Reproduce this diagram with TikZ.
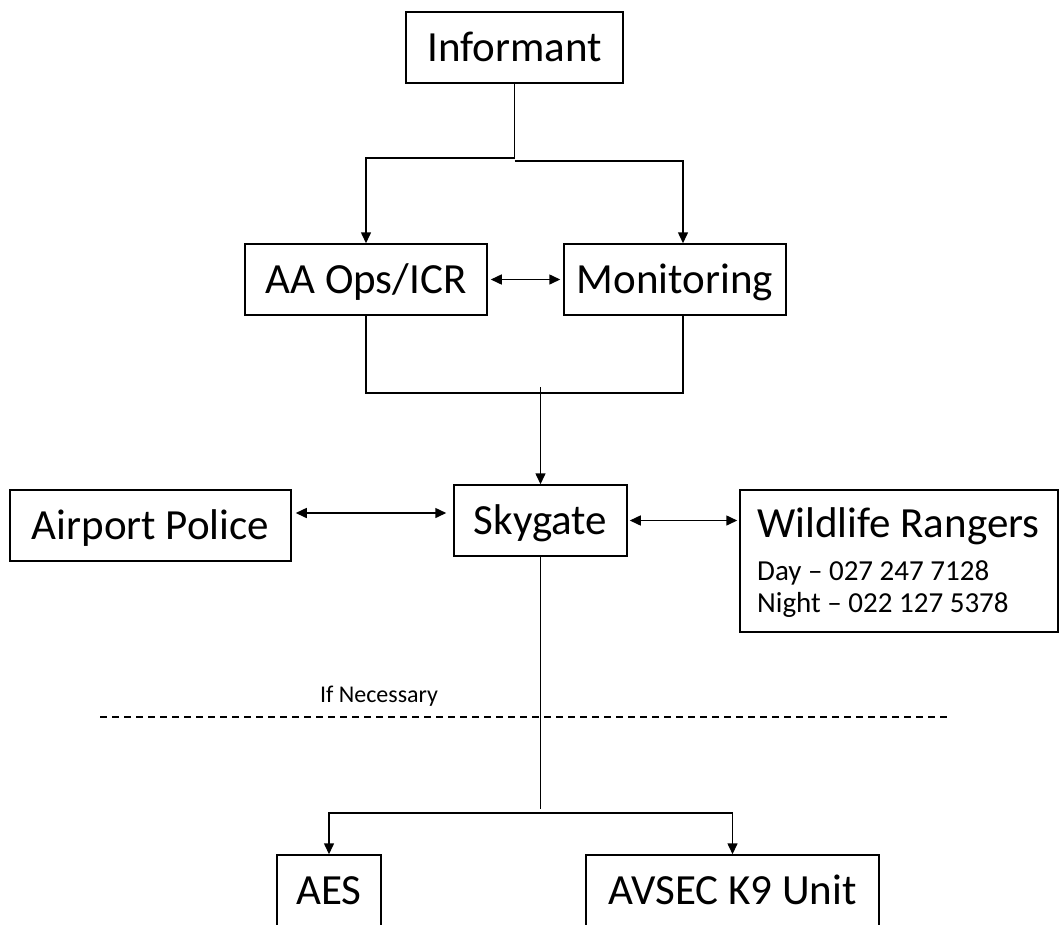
\documentclass[tikz,border=0pt]{standalone}
\usepackage{fontspec}
\setmainfont{Carlito}
\usetikzlibrary{arrows.meta}

\begin{document}
\begin{tikzpicture}[
  x=1pt, y=-1pt,
  box/.style={draw, line width=1.5pt, inner sep=0pt, minimum height=71pt, text height=35pt, text depth=8pt, font=\fontsize{43}{50}\selectfont},
  big/.style={inner sep=0pt, anchor=base west, font=\fontsize{43}{50}\selectfont},
  note/.style={inner sep=0pt, anchor=base west, font=\fontsize{29}{34}\selectfont},
  flow/.style={-{Triangle[width=10pt,length=11pt]}, line width=1.5pt},
  both/.style={{Triangle[width=10pt,length=11pt]}-{Triangle[width=10pt,length=11pt]}, line width=1.5pt},
  wire/.style={line width=1.5pt},
  cut/.style={dash pattern=on 7pt off 5pt, line width=1.3pt},
]
  \useasboundingbox (0,0) rectangle (1059,924);

  \node[box, minimum width=217pt] (inform)  at (514.5,  47.5) {Informant};
  \node[box, minimum width=242pt] (aaops)   at (366,   279.5) {AA Ops/ICR};
  \node[box, minimum width=222pt] (monitor) at (675,   279.5) {Monitoring};
  \node[box, minimum width=173pt] (sky)     at (540.5, 520.5) {Skygate};
  \node[box, minimum width=281pt] (police)  at (150.5, 525.5) {Airport Police};
  \node[box, minimum width=318pt, minimum height=142pt] (wild) at (899, 561) {};
  \node[box, minimum width=104pt] (aes)     at (329,   890.5) {AES};
  \node[box, minimum width=293pt] (avsec)   at (732.5, 890.5) {AVSEC K9 Unit};

  \node[big]  (wildname)  at (757, 537) {Wildlife Rangers};
  \node[note] (wildday)   at (757, 580) {Day – 027 247 7128};
  \node[note] (wildnight) at (757, 612) {Night – 022 127 5378};
  \node[inner sep=0pt, anchor=base, font=\fontsize{24}{28}\selectfont] (ifnec) at (379, 702) {If Necessary};

  \coordinate (merge) at (540.5, 387);

  \draw[flow] (inform.south) -- ++(0,74) -| (aaops.north);
  \draw[flow] (inform.south) ++(0,77) -| ([xshift=8pt]monitor.north);
  \draw[both, shorten <=3pt, shorten >=3pt] (aaops.east) -- (monitor.west);
  \draw[wire] (aaops.south) -- ++(0,77) -| ([xshift=8pt]monitor.south);
  \draw[flow] (merge) -- (sky.north);

  \draw[both, shorten <=4pt, shorten >=7pt] (police.east |- 0,513) -- (sky.west |- 0,513);
  \draw[both, shorten <=2pt, shorten >=2pt] (sky.east) -- (sky.east -| wild.west);

  \draw[wire] (sky.south) -- ++(0,252);
  \draw[flow] (sky.south) ++(0,256) -| (aes.north);
  \draw[flow] (sky.south) ++(0,256) -| (avsec.north);

  \draw[cut] (100,717) -- (951,717);
\end{tikzpicture}
\end{document}
